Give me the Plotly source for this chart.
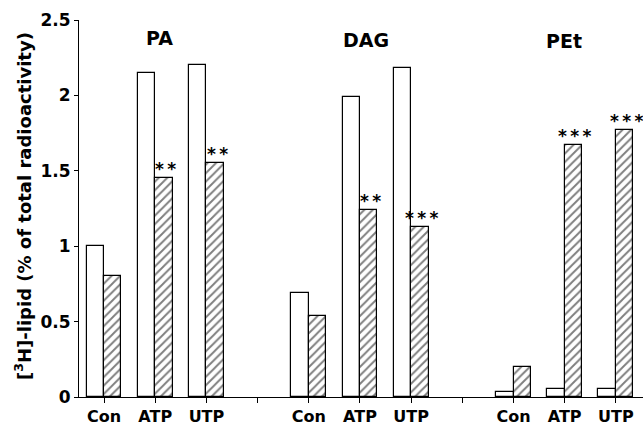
import plotly.graph_objects as go

# Data
groups = ["PA", "DAG", "PEt"]
conditions = ["Con", "ATP", "UTP"]
open_vals = [1.00, 2.15, 2.20, 0.69, 1.99, 2.18, 0.03, 0.055, 0.05]
hatched_vals = [0.80, 1.45, 1.55, 0.54, 1.24, 1.13, 0.20, 1.67, 1.77]
significance = ["", "**", "**", "", "**", "***", "", "***", "***"]
y_ticks = [0, 0.5, 1, 1.5, 2, 2.5]
y_tick_labels = ["0", "0.5", "1", "1.5", "2", "2.5"]

# x positions: 3 conditions per group with a gap slot between groups
xpos = []
for gi in range(len(groups)):
    for ci in range(len(conditions)):
        xpos.append(gi * 4 + ci)
label_ticks = list(xpos)
label_text = [conditions[i % 3] for i in range(len(xpos))]
gap_ticks = [3, 7]

font = "DejaVu Sans, sans-serif"
W = 0.34

fig = go.Figure()
fig.add_trace(go.Bar(
    x=xpos, y=open_vals, width=W, offset=-W,
    marker=dict(color="white", line=dict(color="black", width=1.2)),
    showlegend=False,
))
fig.add_trace(go.Bar(
    x=xpos, y=hatched_vals, width=W, offset=0,
    marker=dict(color="white", line=dict(color="black", width=1.2),
                pattern=dict(shape="/", fgcolor="black", bgcolor="white",
                             size=6, solidity=0.32)),
    showlegend=False,
))

for x, v, s in zip(xpos, hatched_vals, significance):
    if s:
        fig.add_annotation(x=x + W / 2, y=v, text="<b>" + "\u2009".join(s) + "</b>",
                           showarrow=False, yanchor="bottom", yshift=-3, xshift=2,
                           font=dict(family=font, size=17, color="black"))

group_label_pos = [(1.09, 2.38), (5.12, 2.37), (8.98, 2.36)]
for g, (gx, gy) in zip(groups, group_label_pos):
    fig.add_annotation(x=gx, y=gy, text="<b>" + g + "</b>", showarrow=False,
                       font=dict(family=font, size=19, color="black"))

fig.add_annotation(xref="paper", yref="paper", x=-0.099, y=0.507,
                   text="<b>[<sup>3</sup>H]-lipid (% of total radioactivity)</b>",
                   textangle=-90, showarrow=False, xanchor="center",
                   font=dict(family=font, size=18, color="black"))

fig.update_layout(
    width=643, height=430,
    margin=dict(l=79, r=0, t=20, b=33),
    plot_bgcolor="white", paper_bgcolor="white",
    bargap=0,
    font=dict(family=font, size=16, color="black"),
    xaxis=dict(range=[-0.49, 10.53], tickmode="array",
               tickvals=label_ticks, ticktext=label_text,
               showgrid=False, zeroline=False, showline=True,
               linecolor="black", linewidth=1.2, ticks="outside",
               ticklen=5, tickcolor="black",
               minor=dict(tickmode="array", tickvals=gap_ticks, ticks="outside",
                          ticklen=5, tickcolor="black", showgrid=False),
               tickfont=dict(family=font, size=16, color="black", weight="bold")),
    yaxis=dict(range=[0, 2.5], tickvals=y_ticks, ticktext=y_tick_labels,
               showgrid=False, zeroline=False, showline=True,
               linecolor="black", linewidth=1.2, ticks="outside",
               ticklen=4, tickcolor="black",
               tickfont=dict(family=font, size=17, color="black", weight="bold")),
)

fig.write_html("out.html", config={"displayModeBar": False},
               post_script="document.body.style.margin='0';document.body.style.overflow='hidden';")
